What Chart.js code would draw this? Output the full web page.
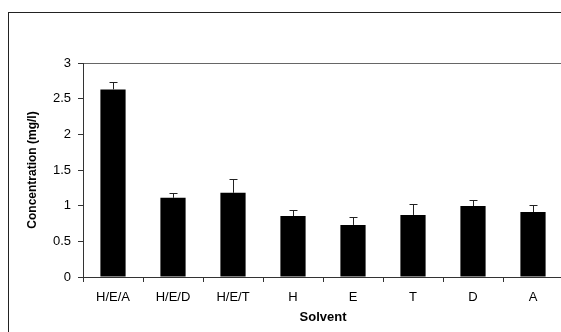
<!DOCTYPE html>
<html>
<head>
<meta charset="utf-8">
<script src="https://cdn.jsdelivr.net/npm/chart.js@4/dist/chart.umd.min.js"></script>
<style>
  html, body { margin: 0; padding: 0; background: #fff; overflow: hidden; }
  #wrap { position: relative; width: 561px; height: 332px; overflow: hidden; }
  #frame { position: absolute; left: 8px; top: 12px; width: 700px; height: 400px;
           border-left: 1px solid #222; border-top: 1px solid #222; }
  #Barchart { position: absolute; left: 0; top: 0; }
</style>
</head>
<body>
<div id="wrap">
  <div id="frame"></div>
  <canvas id="Barchart" width="570" height="332"></canvas>
</div>
<script>
const solvents = ["H/E/A", "H/E/D", "H/E/T", "H", "E", "T", "D", "A"];
const concentration = [2.63, 1.11, 1.18, 0.855, 0.73, 0.87, 0.995, 0.91];
const errors = [0.11, 0.07, 0.19, 0.08, 0.115, 0.15, 0.085, 0.095];
const yTicks = [0, 0.5, 1, 1.5, 2, 2.5, 3];

// draws the upper half of the error bars
const errorBars = {
  id: "errorBars",
  afterDatasetsDraw(chart) {
    const ctx = chart.ctx;
    const y = chart.scales.y;
    const meta = chart.getDatasetMeta(0);
    ctx.save();
    ctx.strokeStyle = "#222";
    ctx.lineWidth = 1;
    meta.data.forEach((bar, i) => {
      const x = Math.round(bar.x) + 0.5;
      const top = y.getPixelForValue(concentration[i]);
      const cap = Math.round(y.getPixelForValue(concentration[i] + errors[i])) + 0.5;
      ctx.beginPath();
      ctx.moveTo(x, top);
      ctx.lineTo(x, cap);
      ctx.moveTo(x - 4, cap);
      ctx.lineTo(x + 4, cap);
      ctx.stroke();
    });
    ctx.restore();
  }
};

new Chart(document.getElementById("Barchart"), {
  type: "bar",
  data: {
    labels: solvents,
    datasets: [{
      data: concentration,
      backgroundColor: "#000",
      borderWidth: 0,
      categoryPercentage: 1,
      barPercentage: 0.42
    }]
  },
  options: {
    responsive: false,
    animation: false,
    layout: { padding: { left: 20, top: 63, right: 7, bottom: 0 } },
    plugins: { legend: { display: false }, tooltip: { enabled: false } },
    scales: {
      x: {
        afterFit: (scale) => { scale.height = 55; },
        grid: { offset: true, drawOnChartArea: false, tickLength: 5, tickColor: "#333" },
        border: { color: "#333", width: 1 },
        ticks: { color: "#000", padding: 8, maxRotation: 0, autoSkip: false,
                 font: { family: "Liberation Sans, Arial", size: 13 } },
        title: { display: true, text: "Solvent", color: "#000",
                 padding: { top: 0, bottom: 7 },
                 font: { family: "Liberation Sans, Arial", size: 13, weight: "bold" } }
      },
      y: {
        min: 0,
        max: 3,
        afterFit: (scale) => { scale.width = 63; },
        afterBuildTicks: (scale) => { scale.ticks = yTicks.map(v => ({ value: v })); },
        grid: {
          color: (c) => c.tick && c.tick.value === 3 ? "#666" : "rgba(0,0,0,0)",
          tickLength: 5, tickColor: "#333"
        },
        border: { color: "#333", width: 1 },
        ticks: { color: "#000", padding: 7, callback: (v) => String(v),
                 font: { family: "Liberation Sans, Arial", size: 13 } },
        title: { display: true, text: "Concentration (mg/l)", color: "#000",
                 padding: { top: 5, bottom: 0 },
                 font: { family: "Liberation Sans, Arial", size: 12, weight: "bold" } }
      }
    }
  },
  plugins: [errorBars]
});
</script>
</body>
</html>
